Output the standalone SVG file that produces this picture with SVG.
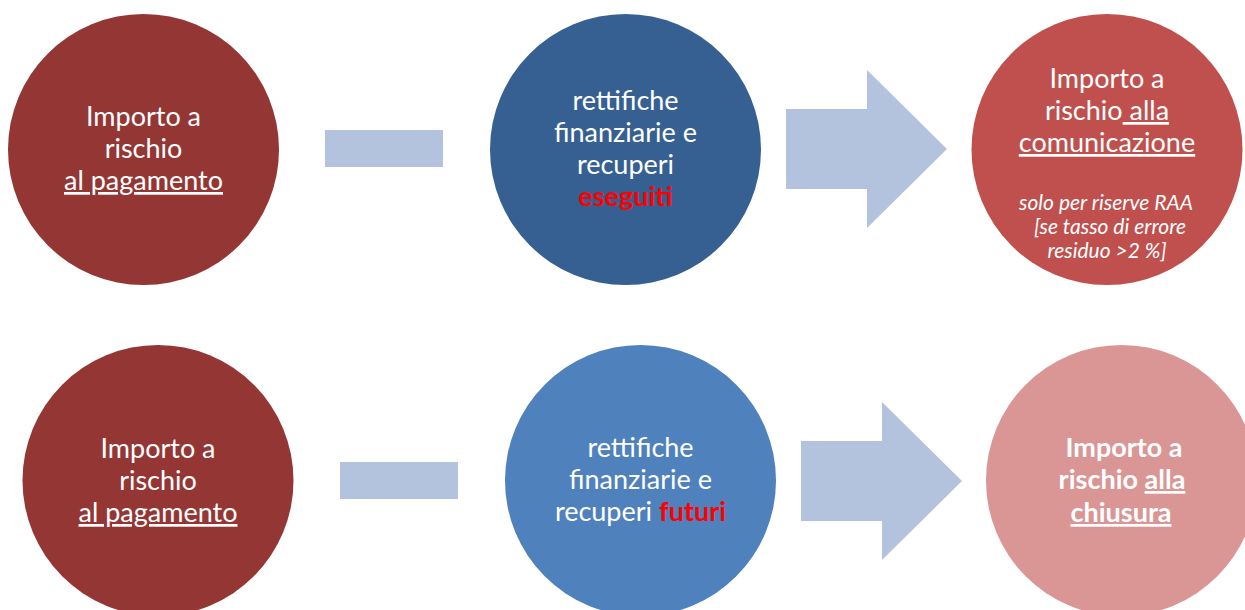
<svg xmlns="http://www.w3.org/2000/svg" width="1245" height="610" viewBox="0 0 1245 610">
<style>
  text { font-family: Lato, "Open Sans", "Liberation Sans", sans-serif; fill: #ffffff; text-anchor: middle; }
  .t { font-size: 27px; }
  .it { font-size: 21px; font-style: italic; }
  .b { font-size: 27px; font-weight: bold; }
  .u { text-decoration: underline; }
  .red { fill: #ff0000; font-weight: bold; }
  .op { fill: #b3c3de; }
</style>
<rect width="1245" height="610" fill="#ffffff"/>
<g id="connectors">
  <rect class="op" x="325" y="130" width="118" height="37"/>
  <polygon class="op" points="786,109 867,109 867,70 947,149 867,228 867,189 786,189"/>
  <rect class="op" x="340" y="462" width="118" height="37"/>
  <polygon class="op" points="801,441 882,441 882,402 962,481 882,560 882,521 801,521"/>
</g>
<g id="node-top-left">
  <circle cx="143.5" cy="149.5" r="135.5" fill="#943634"/>
  <text class="t" x="143.5" y="126">Importo a</text>
  <text class="t" x="143.5" y="158">rischio</text>
  <text class="t u" x="143.5" y="190">al pagamento</text>
</g>
<g id="node-top-middle">
  <circle cx="625.5" cy="149.5" r="135.5" fill="#366092"/>
  <text class="t" x="625.5" y="110">rettifiche</text>
  <text class="t" x="625.5" y="142">finanziarie e</text>
  <text class="t" x="625.5" y="174">recuperi</text>
  <text class="t red" x="625.5" y="206">eseguiti</text>
</g>
<g id="node-top-right">
  <circle cx="1107" cy="149.5" r="135.5" fill="#c0504d"/>
  <text class="t" x="1107" y="88">Importo a</text>
  <text class="t" x="1107" y="120">rischio<tspan class="u"> alla</tspan></text>
  <text class="t u" x="1107" y="152">comunicazione</text>
  <text class="it" x="1106" y="210">solo per riserve RAA</text>
  <text class="it" x="1110" y="234">[se tasso di errore</text>
  <text class="it" x="1107" y="258">residuo &gt;2 %]</text>
</g>
<g id="node-bottom-left">
  <circle cx="158" cy="480.5" r="135.5" fill="#943634"/>
  <text class="t" x="158" y="458">Importo a</text>
  <text class="t" x="158" y="490">rischio</text>
  <text class="t u" x="158" y="522">al pagamento</text>
</g>
<g id="node-bottom-middle">
  <circle cx="640.5" cy="480.5" r="135.5" fill="#4f81bd"/>
  <text class="t" x="640.5" y="457">rettifiche</text>
  <text class="t" x="640.5" y="489">finanziarie e</text>
  <text class="t" x="640.5" y="521">recuperi <tspan class="red">futuri</tspan></text>
</g>
<g id="node-bottom-right">
  <circle cx="1121.5" cy="480.5" r="135.5" fill="#d99694"/>
  <text class="b" x="1124" y="457">Importo a</text>
  <text class="b" x="1122" y="489">rischio <tspan class="u">alla</tspan></text>
  <text class="b u" x="1121" y="522">chiusura</text>
</g>
</svg>
